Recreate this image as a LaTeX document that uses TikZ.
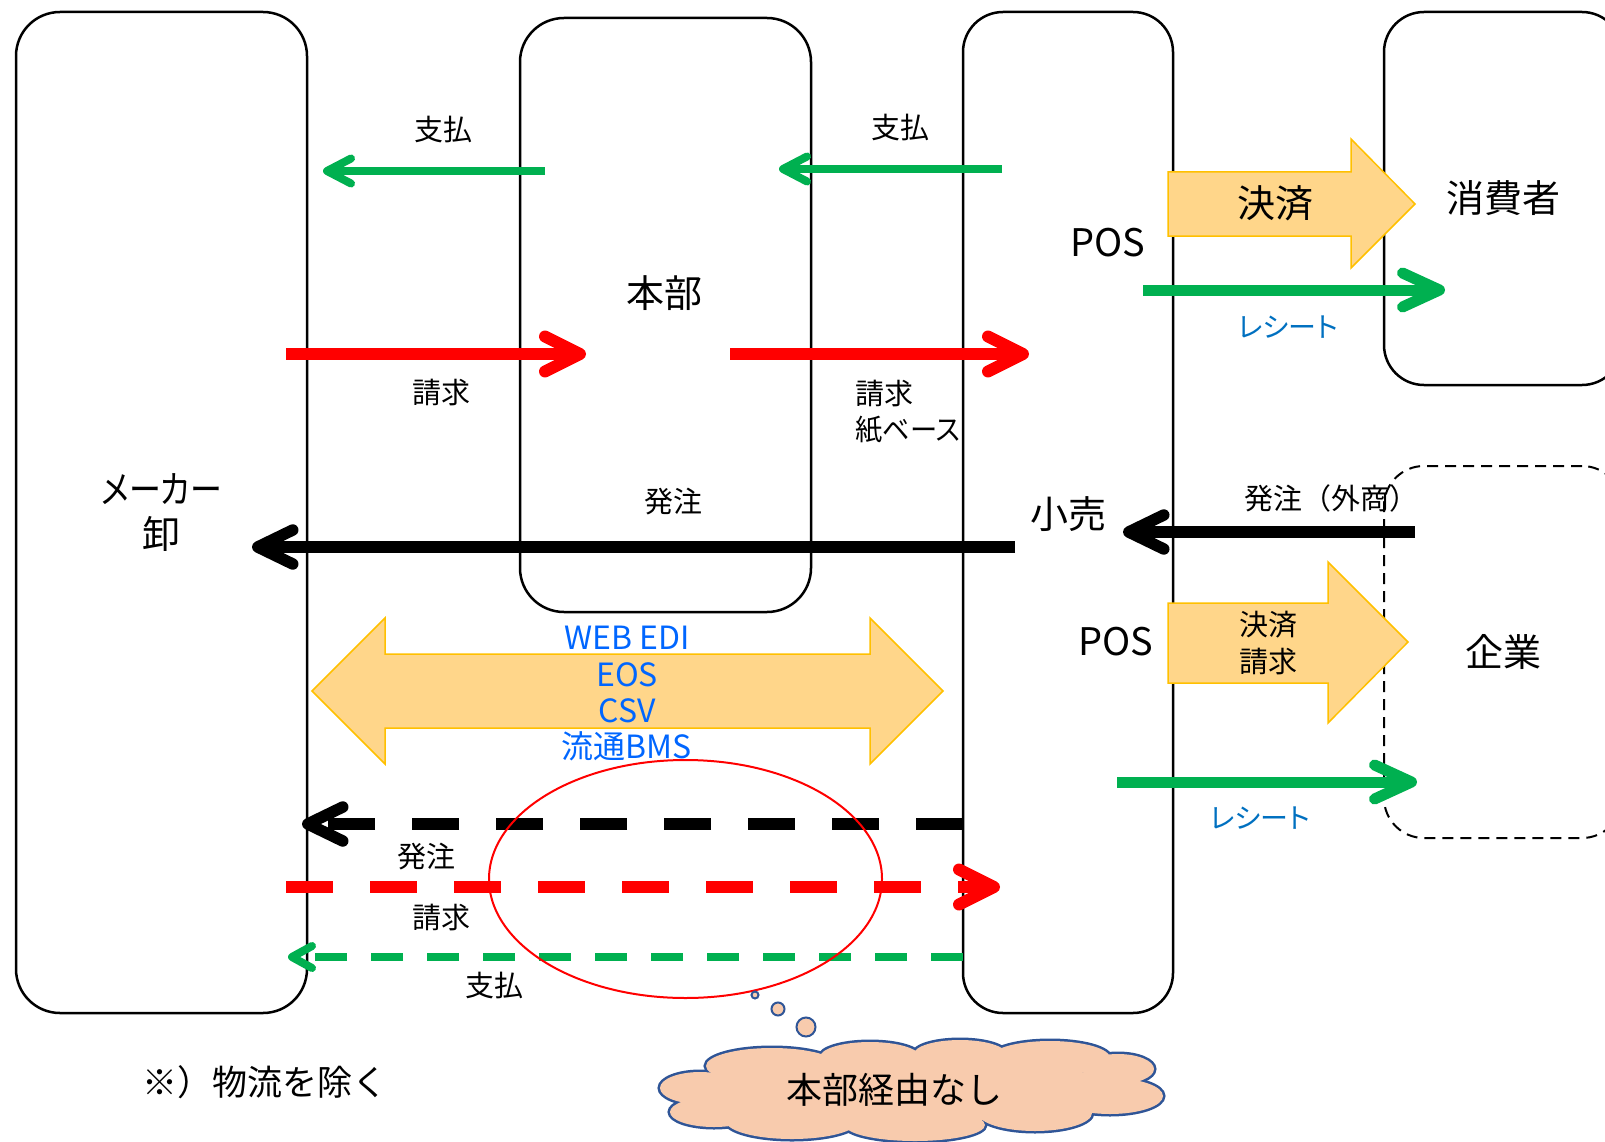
\documentclass[tikz,border=0pt]{standalone}
\usepackage{fontspec}
\setmainfont{Noto Sans CJK JP}
\newfontfamily\kana{Noto Sans CJK JP}[RawFeature=+palt]
\usetikzlibrary{arrows.meta,shapes.geometric}
\definecolor{grn}{HTML}{00B050}
\definecolor{rd}{HTML}{FF0000}
\definecolor{blockfill}{RGB}{255,214,138}
\definecolor{blockedge}{HTML}{FFC000}
\definecolor{rcpt}{HTML}{0070C0}
\definecolor{edi}{HTML}{0066FF}
\definecolor{cloudfill}{HTML}{F8CBAD}
\definecolor{cloudedge}{HTML}{2F5597}
\begin{document}
\begin{tikzpicture}[x=1pt,y=-1pt,
  box/.style={draw, line width=2.5pt, rounded corners=44pt, inner sep=0pt, align=center, font=\fontsize{38}{45}\selectfont},
  lbl/.style={inner sep=0pt, font=\fontsize{29}{34}\selectfont},
  big/.style={inner sep=0pt, font=\fontsize{38}{44}\selectfont},
  rlbl/.style={inner sep=0pt, text=rcpt, font=\fontsize{28}{34}\selectfont\kana},
  edilbl/.style={inner sep=0pt, text=edi, font=\fontsize{32}{36}\selectfont},
  blockarrow/.style={fill=blockfill, draw=blockedge, line width=1.5pt, line join=miter},
  thin green/.style={grn, line width=8pt, -{Straight Barb[length=24pt,width=25pt,round]}},
  rcpt arrow/.style={grn, line width=11pt, -{Straight Barb[length=37pt,width=34pt,round]}},
  red arrow/.style={rd, line width=12pt, -{Straight Barb[length=35pt,width=35pt,round]}},
  black arrow/.style={black, line width=11.5pt, -{Straight Barb[length=35pt,width=34pt,round]}},
  bubble/.style={circle, draw=cloudedge, fill=cloudfill, line width=2pt, inner sep=0pt}
]
\useasboundingbox (0,0) rectangle (1605,1142);
\clip (0,0) rectangle (1605,1142);

% boxes
\node[box, minimum width=291pt, minimum height=1001pt] (maker) at (161.5,512.5) {{\kana\scalebox{0.84}[1]{メーカー}}\\卸};
\node[box, minimum width=291pt, minimum height=594pt] (hqbox) at (665.5,315) {};
\node[box, rounded corners=40pt, minimum width=210pt, minimum height=1001pt] (retail) at (1068,512.5) {};
\node[box, rounded corners=40pt, minimum width=238pt, minimum height=373pt] (consumer) at (1503,198.5) {消費者};
\node[box, rounded corners=40pt, line width=2pt, dash pattern=on 11pt off 7pt, minimum width=238pt, minimum height=372pt] (corp) at (1503,652) {企業};

% coordinates
\coordinate (g1s) at (545,171); \coordinate (g1e) at (323,171);
\coordinate (g2s) at (1002,169); \coordinate (g2e) at (779,169);
\coordinate (r1s) at (286,354); \coordinate (r1e) at (586,354);
\coordinate (r2s) at (730,354); \coordinate (r2e) at (1029,354);
\coordinate (k1s) at (1015,547); \coordinate (k1e) at (252,547);
\coordinate (k2s) at (1415,532); \coordinate (k2e) at (1123,532);
\coordinate (rc1s) at (1143,290); \coordinate (rc1e) at (1445,290);
\coordinate (rc2s) at (1117,782); \coordinate (rc2e) at (1417,782);
\coordinate (kds) at (963,824); \coordinate (kde) at (302,824);
\coordinate (rds) at (286,887); \coordinate (rde) at (1000,887);
\coordinate (gds) at (963,957); \coordinate (gde) at (288,957);

% block arrows
\path[blockarrow] (1168,172) -- (1351,172) -- (1351,139) -- (1415,204) -- (1351,268) -- (1351,236) -- (1168,236) -- cycle;
\path[blockarrow] (1168,603) -- (1328,603) -- (1328,562) -- (1408,642) -- (1328,723) -- (1328,683) -- (1168,683) -- cycle;
\path[blockarrow] (312,691) -- (385,618) -- (385,654) -- (870,654) -- (870,618) -- (943,691) -- (870,764) -- (870,728) -- (385,728) -- (385,764) -- cycle;

% arrows
\draw[thin green] (g1s) -- (g1e);
\draw[thin green] (g2s) -- (g2e);
\draw[red arrow] (r1s) -- (r1e);
\draw[red arrow] (r2s) -- (r2e);
\draw[black arrow] (k1s) -- (k1e);
\draw[black arrow] (k2s) -- (k2e);
\draw[rcpt arrow] (rc1s) -- (rc1e);
\draw[rcpt arrow] (rc2s) -- (rc2e);
\draw[black arrow, dash pattern=on 47pt off 37pt] (kds) -- (kde);
\draw[red arrow, dash pattern=on 47pt off 37pt] (rds) -- (rde);
\draw[grn, line width=8pt, dash pattern=on 32pt off 24pt, -{Straight Barb[length=20pt,width=22pt,round]}] (gds) -- (gde);

% ellipse
\node[ellipse, draw=rd, line width=2pt, minimum width=393pt, minimum height=238pt, inner sep=0pt] (oval) at (685.5,879) {};

% labels
\node[lbl] (pay1) at (443,130) {支払};
\node[lbl] (pay2) at (900,128) {支払};
\node[big] (hq) at (664,293) {本部};
\node[lbl] (bill1) at (441,393) {請求};
\node[lbl, anchor=west] (bill2) at (855,394) {請求};
\node[lbl, anchor=west] (paper) at (855,430) {\kana\scalebox{0.94}[1]{紙ベース}};
\node[lbl] (ord2) at (1331,498) {発注（外商）};
\node[lbl] (ord1) at (673,502) {発注};
\node[big] (retaillbl) at (1068,514) {小売};
\node[big] (pos1) at (1108,243) {POS};
\node[big] (pos2) at (1116,642) {POS};
\node[rlbl] (rc1) at (1288,327) {レシート};
\node[rlbl] (rc2) at (1260,818) {レシート};
\node[big] (settle1) at (1275,203) {決済};
\node[lbl] (settle2) at (1268,625) {決済};
\node[lbl] (bill3) at (1268,662) {請求};
\node[edilbl] (e1) at (627,638) {WEB EDI};
\node[edilbl] (e2) at (627,675) {EOS};
\node[edilbl] (e3) at (627,711) {CSV};
\node[edilbl] (e4) at (627,746) {流通BMS};
\node[lbl] (ord3) at (426,857) {発注};
\node[lbl] (bill4) at (441,917) {請求};
\node[lbl] (pay3) at (494,985) {支払};
\node[inner sep=0pt, font=\fontsize{35}{40}\selectfont] (note) at (265,1082) {※）物流を除く};

% thought bubbles
\node[bubble, minimum size=7pt] (b1) at (755,995) {};
\node[bubble, minimum size=13pt] (b2) at (778,1009) {};
\node[bubble, minimum size=19pt] (b3) at (806,1027) {};

% cloud: outline pass, then fill pass
\def\puffs{700/1088/40/16, 714/1112/44/15, 792/1121/66/18, 915/1125/70/16, 1035/1113/57/18, 1110/1096/53/18, 1118/1069/36/15, 1050/1058/60/17, 960/1054/46/14, 870/1057/50/15, 772/1066/66/18}
\foreach \cx/\cy/\rx/\ry in \puffs {
  \draw[cloudedge, line width=5pt] (\cx,\cy) ellipse [x radius=\rx pt, y radius=\ry pt];
}
\foreach \cx/\cy/\rx/\ry in \puffs {
  \fill[cloudfill] (\cx,\cy) ellipse [x radius=\rx pt, y radius=\ry pt];
}
\fill[cloudfill] (912,1090) ellipse [x radius=205pt, y radius=32pt];
\node[inner sep=0pt, font=\fontsize{36}{40}\selectfont] (cloudtext) at (894,1090) {本部経由なし};
\end{tikzpicture}
\end{document}
